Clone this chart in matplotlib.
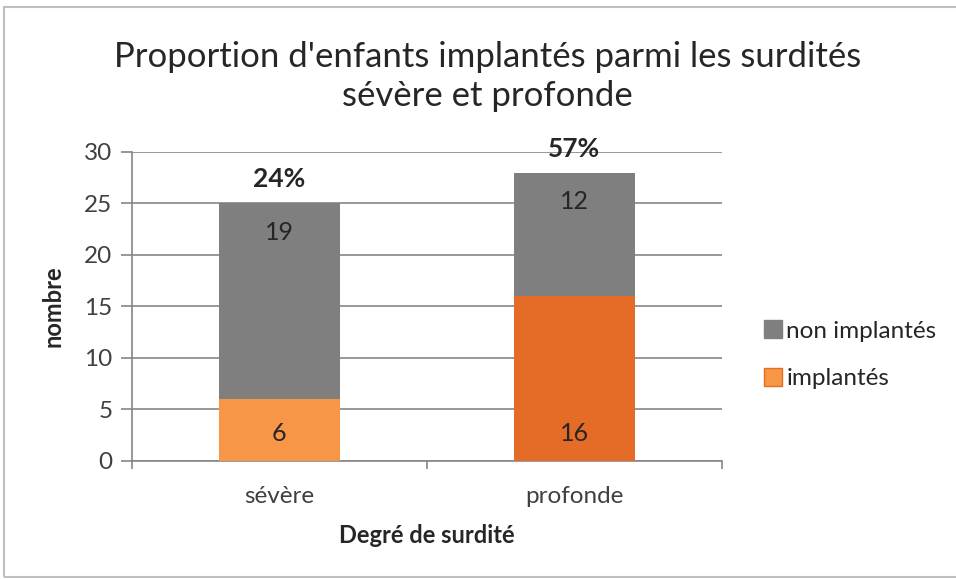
import numpy as np
import matplotlib.pyplot as plt
from matplotlib.patches import Rectangle
from matplotlib.lines import Line2D

plt.rcParams['font.family'] = ['Lato', 'DejaVu Sans']

categories = ['sévère', 'profonde']
implantes = [6, 16]
non_implantes = [19, 12]
pourcentages = ['24%', '57%']

fig = plt.figure(figsize=(9.56, 5.79), dpi=100)
ax = fig.add_axes([0.138, 0.204, 0.617, 0.5335])

x = np.arange(len(categories))
w = 0.41
c_impl = ['#F79646', '#E46C27']
c_non = '#7F7F7F'

ax.bar(x, implantes, w, color=c_impl, zorder=3)
ax.bar(x, non_implantes, w, bottom=implantes, color=c_non, zorder=3)

for i in range(len(categories)):
    total = implantes[i] + non_implantes[i]
    ax.annotate(str(implantes[i]), (x[i], 0), xytext=(0, 27), textcoords='offset pixels',
                ha='center', va='center', fontsize=18, color='#262626')
    ax.annotate(str(non_implantes[i]), (x[i], total), xytext=(0, -29), textcoords='offset pixels',
                ha='center', va='center', fontsize=18, color='#262626')
    ax.annotate(pourcentages[i], (x[i], total), xytext=(0, 24), textcoords='offset pixels',
                ha='center', va='center', fontsize=19, fontweight='bold', color='#262626',
                annotation_clip=False)

ax.set_xlim(-0.5, 1.5)
ax.set_ylim(0, 30)
ax.set_yticks(range(0, 31, 5))
ax.set_xticks(x)
ax.set_xticklabels(categories)
ax.set_xticks([-0.5, 0.5, 1.5], minor=True)
ax.tick_params(axis='x', which='major', length=0, pad=18, labelsize=17.5, labelcolor='#404040')
ax.tick_params(axis='x', which='minor', length=6, color='#868686', width=1.2)
ax.tick_params(axis='y', length=8, color='#868686', width=1.2, labelsize=17.5,
               labelcolor='#404040', pad=6)
ax.grid(axis='y', color='#868686', linewidth=1.2, zorder=0)
for s in ['top', 'right']:
    ax.spines[s].set_visible(False)
ax.spines['left'].set_color('#868686')
ax.spines['bottom'].set_color('#868686')
ax.spines['left'].set_linewidth(1.2)
ax.spines['bottom'].set_linewidth(1.2)

ax.set_ylabel('nombre', fontsize=17, fontweight='bold', color='#262626', labelpad=14)
ax.set_xlabel('Degré de surdité', fontsize=17, fontweight='bold', color='#262626', labelpad=12)

fig.text(0.51, 0.868, "Proportion d'enfants implantés parmi les surdités\nsévère et profonde",
         ha='center', va='center', fontsize=25, color='#262626', linespacing=1.25)

handles = [Line2D([], [], marker='s', linestyle='none', markersize=13,
                  markerfacecolor=c_non, markeredgecolor=c_non),
           Line2D([], [], marker='s', linestyle='none', markersize=13,
                  markerfacecolor=c_impl[0], markeredgecolor=c_impl[1])]
fig.legend(handles, ['non implantés', 'implantés'], loc='center left',
           bbox_to_anchor=(0.797, 0.387), frameon=False, fontsize=17.5,
           handletextpad=0.1, labelspacing=1.1, handlelength=0.9,
           labelcolor='#262626', borderaxespad=0, borderpad=0)

fig.patches.append(Rectangle((4 / 956, 2 / 579), 1, 1 - 9 / 579, transform=fig.transFigure,
                             fill=False, edgecolor='#BFBFBF', linewidth=1.5))

fig.savefig('out.png', dpi=100)
